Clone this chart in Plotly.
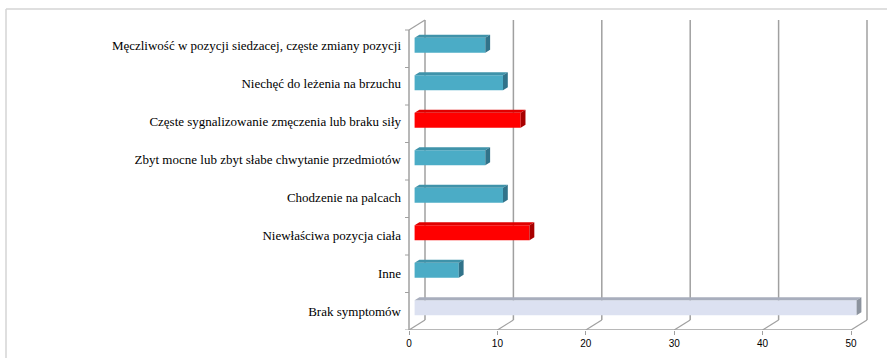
import plotly.graph_objects as go

categories = [
    "Męczliwość w pozycji siedzacej, częste zmiany pozycji",
    "Niechęć do leżenia na brzuchu",
    "Częste sygnalizowanie zmęczenia lub braku siły",
    "Zbyt mocne lub zbyt słabe chwytanie przedmiotów",
    "Chodzenie na palcach",
    "Niewłaściwa pozycja ciała",
    "Inne",
    "Brak symptomów",
]
values = [8, 10, 12, 8, 10, 13, 5, 50]
kinds = ["blue", "blue", "red", "blue", "blue", "red", "blue", "grey"]
x_ticks = [0, 10, 20, 30, 40, 50]

palette = {
    "blue": ("#4bacc6", "#3f93aa", "#31738a"),
    "red": ("#ff0000", "#e00000", "#a80000"),
    "grey": ("#dce1f1", "#a8aebd", "#8c939e"),
}

W, H = 887, 358
ML, MR, MT, MB = 404, 17, 15, 28
PX0, PXU = 409.0, 8.84          # pixel of x=0 and pixels per unit
BAND = 37.5                       # pixels per category
DX = 16 / PXU                     # depth offset in x units
DY = 10 / BAND                    # depth offset in category units
F0, F1 = 0.35, 0.65               # bar depth fractions
BH = 0.4                          # bar face height (category units)

x_lo = (ML - PX0) / PXU
x_hi = (W - MR - PX0) / PXU
y_top = (MT - 48.75) / BAND
y_bot = 7.5

n = len(categories)
fig = go.Figure()

# front faces
for i, (v, k) in enumerate(zip(values, kinds)):
    fig.add_trace(go.Bar(
        x=[v], y=[i - F0 * DY], base=[F0 * DX], orientation="h", width=BH,
        marker=dict(color=palette[k][0], line=dict(width=0)),
        showlegend=False, hoverinfo="skip"))

# top and side faces
dd = (F1 - F0) * DY
for i, (v, k) in enumerate(zip(values, kinds)):
    yc = i - F0 * DY
    yt, yb = yc - BH / 2, yc + BH / 2
    x0, x1 = F0 * DX, v + F0 * DX
    ddx = (F1 - F0) * DX
    fig.add_trace(go.Scatter(
        x=[x0, x1, x1 + ddx, x0 + ddx, x0], y=[yt, yt, yt - dd, yt - dd, yt],
        fill="toself", fillcolor=palette[k][1], mode="lines", line=dict(width=0),
        showlegend=False, hoverinfo="skip"))
    fig.add_trace(go.Scatter(
        x=[x1, x1 + ddx, x1 + ddx, x1, x1], y=[yt, yt - dd, yb - dd, yb, yt],
        fill="toself", fillcolor=palette[k][2], mode="lines", line=dict(width=0),
        showlegend=False, hoverinfo="skip"))

shapes = []
gcol = "#a0a0a0"
top_front = -0.5
# back gridlines
for t in x_ticks:
    shapes.append(dict(type="line", xref="x", yref="y", x0=t + DX, x1=t + DX,
                       y0=top_front - DY, y1=y_bot - DY, line=dict(color=gcol, width=1.5), layer="below"))
    shapes.append(dict(type="line", xref="x", yref="y", x0=t, x1=t + DX,
                       y0=y_bot, y1=y_bot - DY, line=dict(color=gcol, width=1.2), layer="below"))
# left wall front edge & top diagonal
shapes.append(dict(type="line", xref="x", yref="y", x0=0, x1=0, y0=top_front, y1=y_bot,
                   line=dict(color=gcol, width=1.5), layer="below"))
shapes.append(dict(type="line", xref="x", yref="y", x0=0, x1=DX, y0=top_front, y1=top_front - DY,
                   line=dict(color=gcol, width=1.2), layer="below"))
# floor front edge
shapes.append(dict(type="line", xref="x", yref="y", x0=0, x1=x_ticks[-1], y0=y_bot, y1=y_bot,
                   line=dict(color=gcol, width=1.5), layer="below"))
# category tick marks on left
for j in range(n + 1):
    shapes.append(dict(type="line", xref="x", yref="y", x0=-0.45, x1=0, y0=-0.5 + j, y1=-0.5 + j,
                       line=dict(color=gcol, width=1), layer="below"))
# chart border (top and left)
pw, ph = W - ML - MR, H - MT - MB
def px2paper_x(p): return (p - ML) / pw
def px2paper_y(p): return (H - MB - p) / ph
shapes.append(dict(type="line", xref="paper", yref="paper",
                   x0=px2paper_x(6), x1=px2paper_x(890), y0=px2paper_y(9), y1=px2paper_y(9),
                   line=dict(color="#d4d4d4", width=1.5)))
shapes.append(dict(type="line", xref="paper", yref="paper",
                   x0=px2paper_x(6), x1=px2paper_x(6), y0=px2paper_y(9), y1=px2paper_y(365),
                   line=dict(color="#d4d4d4", width=1.5)))

fig.update_layout(
    width=W, height=H, margin=dict(l=ML, r=MR, t=MT, b=MB, autoexpand=False),
    paper_bgcolor="white", plot_bgcolor="white",
    barmode="overlay", shapes=shapes, showlegend=False,
    xaxis=dict(range=[x_lo, x_hi], tickvals=x_ticks, ticktext=[str(t) for t in x_ticks],
               showgrid=False, zeroline=False, showline=False, automargin=False,
               ticks="outside", ticklen=4, tickcolor=gcol, tickwidth=1,
               tickfont=dict(family="Liberation Sans", size=10, color="#000")),
    yaxis=dict(range=[y_bot, y_top], tickvals=[-0.1 + 1.016 * i for i in range(n)], ticktext=categories,
               showgrid=False, zeroline=False, showline=False, ticks="", automargin=False,
               ticklabelstandoff=2,
               tickfont=dict(family="Liberation Serif", size=13, color="#000")),
)

fig.write_html("out.html")
